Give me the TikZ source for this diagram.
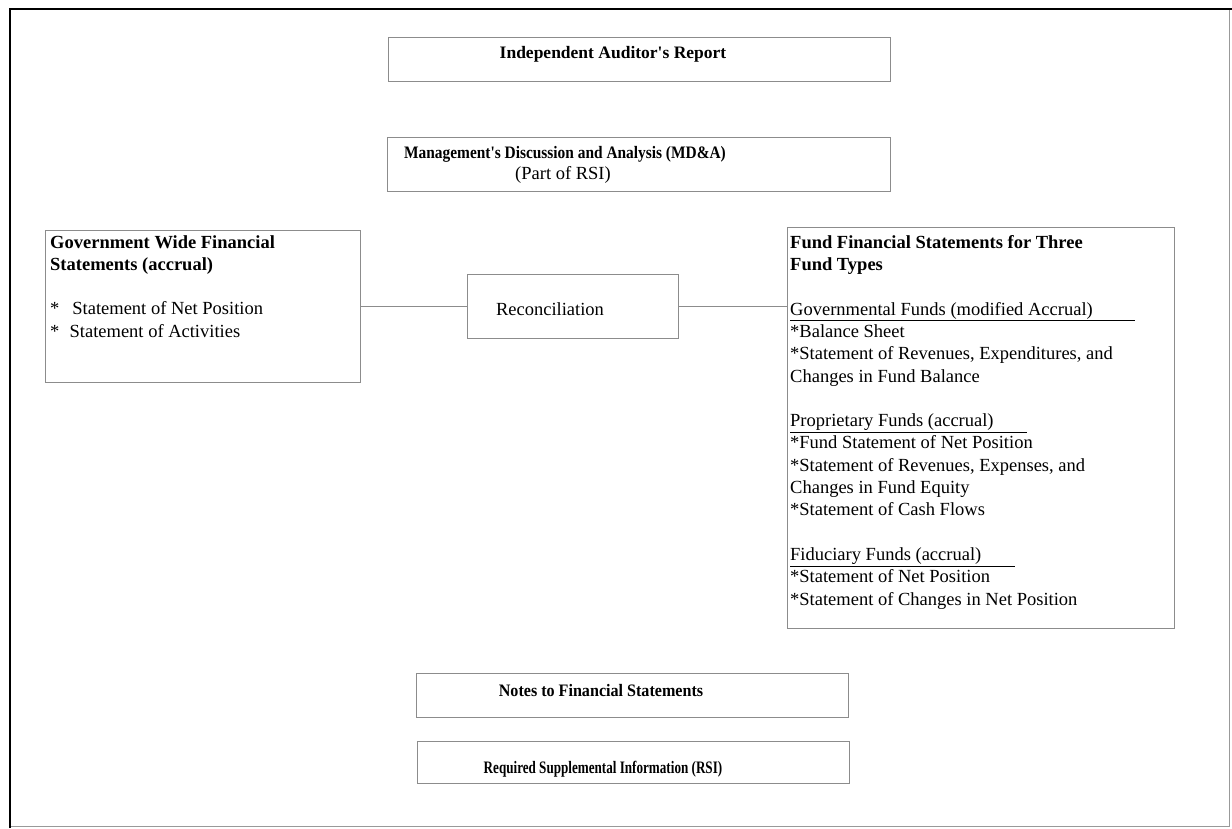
\documentclass[tikz,border=0pt]{standalone}
\usepackage{fontspec}
\setmainfont{Liberation Serif}
\usepackage{graphicx}
\usepackage{tikz}

\newcommand{\apos}{\textquotesingle}

\begin{document}
\begin{tikzpicture}[
    x=1pt, y=-1pt,
    box/.style={rectangle, draw=black!45, line width=0.8pt, anchor=north west, inner sep=0pt},
    txt/.style={inner sep=0pt, font=\fontsize{18.5}{22.3}\selectfont},
    head/.style={inner sep=0pt, font=\fontsize{17.5}{22.3}\selectfont\bfseries},
    link/.style={draw=black!45, line width=0.8pt}
]
\useasboundingbox (0,0) rectangle (1232,828);
% outer frame
\draw[black!40, line width=0.8pt] (10,9) rectangle (1229,826);
\draw[black, line width=2.5pt] (10,828) -- (10,9) -- (1232,9);

% boxes
\node[box, minimum width=502pt, minimum height=44pt] (audit) at (388,37) {};
\node[box, minimum width=503pt, minimum height=54pt] (mda) at (387,137) {};
\node[box, minimum width=315pt, minimum height=152pt] (gov) at (45,230) {};
\node[box, minimum width=211pt, minimum height=64pt] (recon) at (467,274) {};
\node[box, minimum width=387pt, minimum height=401pt] (fund) at (787,227) {};
\node[box, minimum width=432pt, minimum height=44pt] (notes) at (416,673) {};
\node[box, minimum width=432pt, minimum height=42pt] (rsi) at (417,741) {};

% texts
\node[head, anchor=base] (auditT) at (613,58) {Independent Auditor\apos s Report};
\node[head, anchor=base] (mdaT) at (565,158)
    {\scalebox{0.88}[1]{Management\apos s Discussion and Analysis (MD\&A)}};
\node[txt, anchor=base] (mdaSub) at (563,179) {(Part of RSI)};
\node[txt, anchor=north west, align=left] (govT) at (50,235)
    {\bfseries Government Wide Financial\\
     \bfseries Statements (accrual)\\[22.3pt]
     *\hspace{0.7em}Statement of Net Position\\
     *\hspace{0.55em}Statement of Activities};
\node[txt, anchor=base] (reconT) at (550,315) {Reconciliation};
\node[txt, anchor=north west, align=left] (fundT) at (790,235)
    {\bfseries Fund Financial Statements for Three\\
     \bfseries Fund Types\\[22.3pt]
     \underline{Governmental Funds (modified Accrual)\hspace{2.3em}}\\
     *Balance Sheet\\
     *Statement of Revenues, Expenditures, and\\
     Changes in Fund Balance\\[22.3pt]
     \underline{Proprietary Funds (accrual)\hspace{1.8em}}\\
     *Fund Statement of Net Position\\
     *Statement of Revenues, Expenses, and\\
     Changes in Fund Equity\\
     *Statement of Cash Flows\\[22.3pt]
     \underline{Fiduciary Funds (accrual)\hspace{1.8em}}\\
     *Statement of Net Position\\
     *Statement of Changes in Net Position};
\node[head, anchor=base] (notesT) at (601,696)
    {\scalebox{0.92}[1]{Notes to Financial Statements}};
\node[head, anchor=base] (rsiT) at (603,773)
    {\scalebox{0.75}[1]{Required Supplemental Information (RSI)}};

% connectors
\draw[link] (gov.east) -- (recon.west);
\draw[link] (recon.east) -- (recon.east -| fund.west);
\end{tikzpicture}
\end{document}
